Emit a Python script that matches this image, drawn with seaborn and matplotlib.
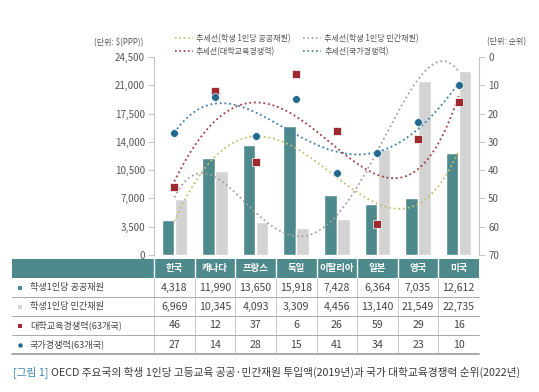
import numpy as np
import pandas as pd
import matplotlib
matplotlib.use("Agg")
import matplotlib.pyplot as plt
from matplotlib.lines import Line2D
from matplotlib.patches import Rectangle
import seaborn as sns

# --- data ---
countries = ["한국", "캐나다", "프랑스", "독일", "이탈리아", "일본", "영국", "미국"]
public_fund = [4318, 11990, 13650, 15918, 7428, 6364, 7035, 12612]
private_fund = [6969, 10345, 4093, 3309, 4456, 13140, 21549, 22735]
univ_rank = [46, 12, 37, 6, 26, 59, 29, 16]
nation_rank = [27, 14, 28, 15, 41, 34, 23, 10]

row_labels = ["학생1인당 공공재원", "학생1인당 민간재원", "대학교육경쟁력(63개국)", "국가경쟁력(63개국)"]
legend_labels = ["추세선(학생 1인당 공공재원)", "추세선(대학교육경쟁력)",
                 "추세선(학생 1인당 민간재원)", "추세선(국가경쟁력)"]
left_ticks = [0, 3500, 7000, 10500, 14000, 17500, 21000, 24500]
right_ticks = [0, 10, 20, 30, 40, 50, 60, 70]
caption_tag = "[그림 1]"
caption_text = "OECD 주요국의 학생 1인당 고등교육 공공·민간재원 투입액(2019년)과 국가 대학교육경쟁력 순위(2022년)"

TEAL = "#4e8a8c"
GRAY = "#d3d3d3"
RED = "#9c2a30"
BLUE = "#23688f"
TR_PUB = "#c4c070"
TR_PRI = "#a3a3a3"
TR_UNI = "#9e3d42"
TR_NAT = "#3c7fa6"
TXT = "#444444"

sns.set_style("white")
plt.rcParams["font.family"] = ["Noto Sans CJK KR", "DejaVu Sans"]

W, H = 539, 392
fig = plt.figure(figsize=(W / 100, H / 100), dpi=100)

def fx(px):
    return px / W

def fy(py):
    return 1 - py / H

ax = fig.add_axes([fx(154), fy(255), fx(479) - fx(154), fy(57) - fy(255)])

df_bar = pd.DataFrame({
    "국가": countries * 2,
    "재원": ["공공"] * len(countries) + ["민간"] * len(countries),
    "금액": public_fund + private_fund,
})
sns.barplot(data=df_bar, x="국가", y="금액", hue="재원", palette=[TEAL, GRAY],
            saturation=1, width=0.64, gap=0.03, legend=False, ax=ax, zorder=1)

# polynomial (order 4) trend lines fitted to the data
xs = np.arange(len(countries))
xd = np.linspace(0, len(countries) - 1, 200)

def trend(vals, deg=4):
    return np.polyval(np.polyfit(xs, vals, deg), xd)

dot = (0, (1, 1.6))
sns.lineplot(x=xd, y=trend(public_fund), ax=ax, color=TR_PUB, lw=1.3, ls=dot, zorder=3)
sns.lineplot(x=xd, y=trend(private_fund), ax=ax, color=TR_PRI, lw=1.3, ls=dot, zorder=3)

ax.set_ylim(0, 24500)
ax.set_xlim(-0.5, len(countries) - 0.5)
ax.set_yticks(left_ticks)
ax.set_yticklabels([f"{v:,}" for v in left_ticks])
ax.set_xticks([])
ax.set_xlabel("")
ax.set_ylabel("")
for s in ["top", "right", "bottom"]:
    ax.spines[s].set_visible(False)
ax.spines["left"].set_color("#c4c4c4")
ax.spines["left"].set_linewidth(0.8)
ax.tick_params(axis="y", direction="out", length=4.5, width=0.7, color="#c4c4c4",
               labelsize=7, labelcolor="#555555", pad=2)

ax2 = ax.twinx()
sns.lineplot(x=xd, y=trend(univ_rank), ax=ax2, color=TR_UNI, lw=1.3, ls=dot)
sns.lineplot(x=xd, y=trend(nation_rank), ax=ax2, color=TR_NAT, lw=1.3, ls=dot)
sns.scatterplot(x=xs, y=univ_rank, ax=ax2, marker="s", s=30, color=RED,
                edgecolor="white", linewidth=0.5, zorder=5, legend=False)
sns.scatterplot(x=xs, y=nation_rank, ax=ax2, marker="o", s=32, color=BLUE,
                edgecolor="white", linewidth=0.5, zorder=5, legend=False)
ax2.set_ylim(70, 0)
ax2.set_xlim(-0.5, len(countries) - 0.5)
ax2.set_yticks(right_ticks)
ax2.set_ylabel("")
for s in ["top", "left", "bottom"]:
    ax2.spines[s].set_visible(False)
ax2.spines["right"].set_color("#c4c4c4")
ax2.spines["right"].set_linewidth(0.8)
ax2.tick_params(axis="y", direction="out", length=4.5, width=0.7, color="#c4c4c4",
                labelsize=7, labelcolor="#555555", pad=2)

# unit labels
fig.text(fx(143), fy(42), r"(단위: \$(PPP))", ha="right", va="center", fontsize=5.8, color="#555555")
fig.text(fx(487), fy(42), "(단위: 순위)", ha="left", va="center", fontsize=5.8, color="#555555")

# legend
handles = [Line2D([], [], color=c, lw=1.2, ls=dot) for c in [TR_PUB, TR_UNI, TR_PRI, TR_NAT]]
fig.legend(handles, legend_labels, ncol=2, frameon=False, loc="upper left",
           bbox_to_anchor=(fx(171), fy(30)), fontsize=5.8, handlelength=2.2,
           handletextpad=0.4, columnspacing=1.6, labelspacing=0.45, borderpad=0,
           labelcolor="#555555")

# table
tab = fig.add_axes([fx(154), fy(354), fx(479) - fx(154), fy(259) - fy(354)])
tab.set_xlim(-0.5, len(countries) - 0.5)
tab.set_ylim(354, 259)
tab.axis("off")
col_w = (479 - 154) / len(countries)
x_left = -0.5 - (154 - 12) / col_w
x_right = len(countries) - 0.5
head_top, head_bot = 259, 278
row_h = 19

tab.add_patch(Rectangle((x_left, head_top), x_right - x_left, head_bot - head_top,
                        color=TEAL, clip_on=False, lw=0))
for i, c in enumerate(countries):
    tab.text(i, (head_top + head_bot) / 2, c, ha="center", va="center",
             color="white", fontsize=6.8, fontweight="bold")
for i in range(len(countries)):
    xv = i - 0.5
    tab.plot([xv, xv], [head_top, head_bot], color="white", lw=1, clip_on=False)
    tab.plot([xv, xv], [head_bot, head_bot + 4 * row_h], color="#c8c8c8", lw=0.7, clip_on=False)

rows = [
    [f"{v:,}" for v in public_fund],
    [f"{v:,}" for v in private_fund],
    [str(v) for v in univ_rank],
    [str(v) for v in nation_rank],
]
row_marks = [("s", TEAL), ("s", GRAY), ("s", RED), ("o", BLUE)]
for r, (lab, vals) in enumerate(zip(row_labels, rows)):
    yc = head_bot + row_h * (r + 0.5)
    m, mc = row_marks[r]
    tab.plot([x_left + 8 / col_w], [yc], marker=m, ms=3.2, color=mc, mew=0, clip_on=False)
    tab.text(x_left + 18 / col_w, yc, lab, ha="left", va="center", fontsize=6.6, color=TXT)
    for i, v in enumerate(vals):
        tab.text(i, yc, v, ha="center", va="center", fontsize=7.6, color=TXT)
    yb = head_bot + row_h * (r + 1)
    lw = 1.4 if r == 3 else 0.7
    tab.plot([x_left, x_right], [yb, yb], color="#a8a8a8", lw=lw, clip_on=False)

# caption
t1 = fig.text(fx(13), fy(372), caption_tag, ha="left", va="center", fontsize=7.7, color="#3f83a8")
fig.canvas.draw()
bb = t1.get_window_extent()
fig.text((bb.x1 + 3) / W, fy(372), caption_text, ha="left", va="center", fontsize=7.7, color="#3a3a3a")

fig.savefig("out.png", dpi=100)
